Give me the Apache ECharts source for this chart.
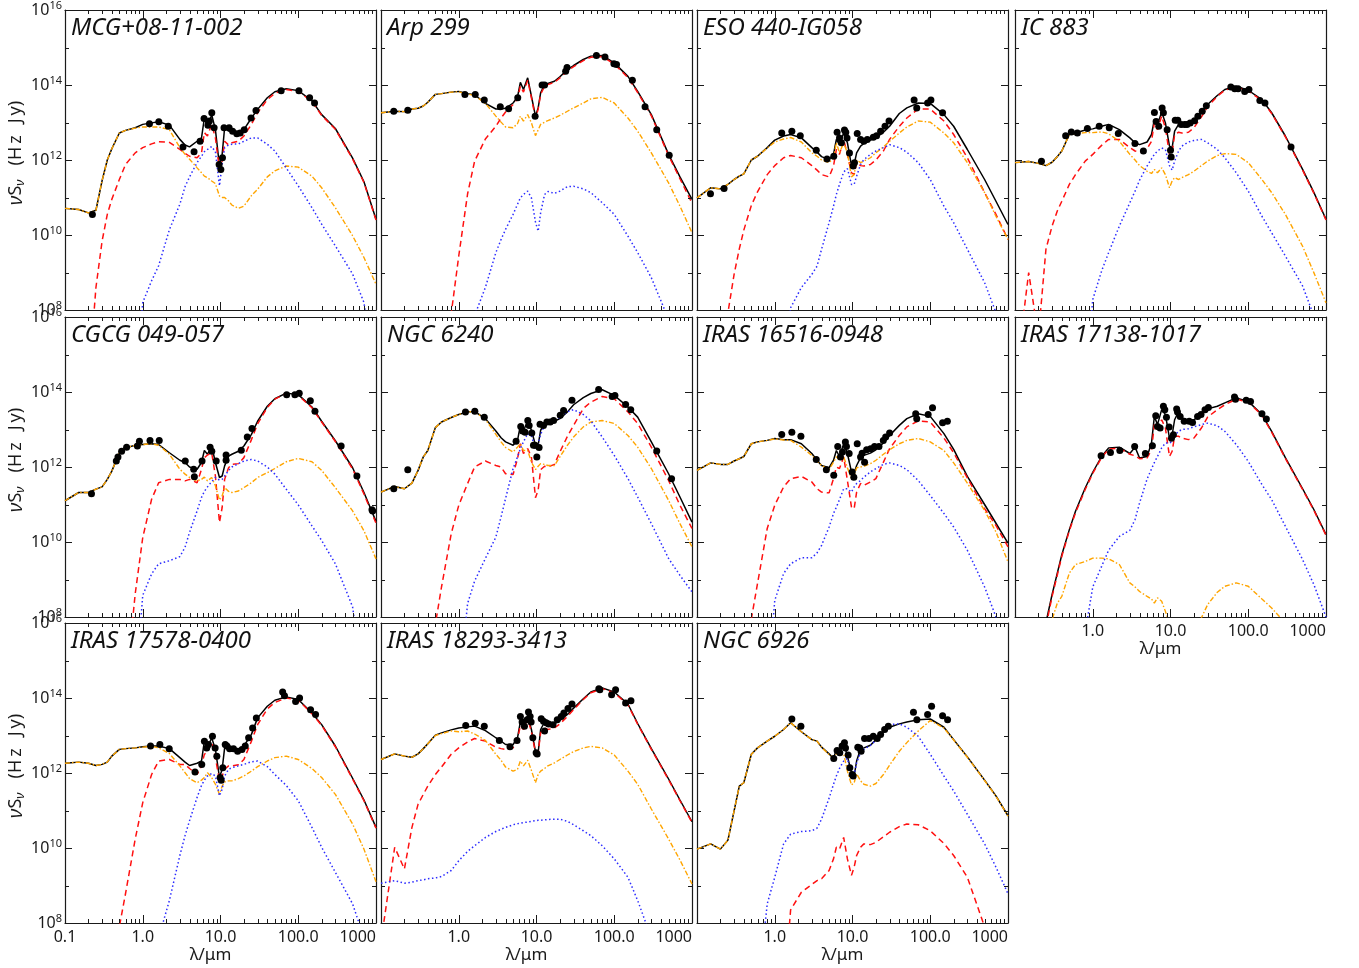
<!DOCTYPE html>
<html><head><meta charset="utf-8">
<script src="https://cdn.jsdelivr.net/npm/echarts@6/dist/echarts.min.js"></script>
<style>html,body{margin:0;padding:0;background:#fff}#c{width:1359px;height:968px}</style>
</head><body><div id="c"></div>
<script>
// Shared wavelength grid (micron) on which every model curve was read
const LAMBDA = [0.1, 0.15, 0.2, 0.25, 0.3, 0.35, 0.4, 0.5, 0.6, 0.8,
  1.0, 1.3, 1.6, 2.2, 3.0, 3.5, 4.0, 5.0, 5.7, 6.2,
  6.8, 7.7, 8.6, 9.7, 10.5, 11.3, 12.7, 14, 17, 20,
  25, 30, 40, 50, 70, 100, 150, 200, 300, 500,
  700, 1000];

// All fluxes are log10(nu S_nu / Hz Jy). total = black, sb = red dashed, host = orange dash-dot, agn = blue dotted
// ---- MCG+08-11-002
const mcg_total = [10.71,10.68,10.59,10.66,11.45,12.00,12.30,12.72,12.79,12.86, 12.95,12.99,13.02,12.93,12.55,12.40,12.35,12.50,12.59,13.12, 12.86,13.21,12.81,11.84,12.15,12.86,12.77,12.79,12.72,12.81, 13.12,13.35,13.66,13.82,13.90,13.85,13.58,13.21,12.84,12.05, 11.42,10.42];
const mcg_sb = [6,6,6,8.6,9.84,10.55,10.95,11.48,11.88,12.19, 12.33,12.43,12.49,12.47,12.28,12.18,12.10,12.06,12.19,12.73, 12.64,12.95,12.59,11.75,11.97,12.50,12.40,12.46,12.50,12.64, 12.95,13.26,13.61,13.78,13.88,13.83,13.56,13.19,12.82,12.03, 11.40,10.40];
const mcg_host = [10.71,10.68,10.59,10.66,11.45,12.00,12.30,12.72,12.79,12.85, 12.88,12.88,12.88,12.81,12.33,12.15,12.02,11.79,11.66,11.57, 11.53,11.44,11.37,11.04,11.00,11.00,10.91,10.80,10.71,10.77, 11.05,11.22,11.55,11.71,11.84,11.81,11.57,11.26,10.73,9.98, 9.40,8.69];
const mcg_agn = [6,6,6,6,6,6,6,6,6,6, 8.20,8.78,9.18,10.14,10.82,11.29,11.55,11.93,12.10,12.22, 12.28,12.36,12.22,11.31,11.88,12.33,12.40,12.42,12.43,12.50, 12.59,12.59,12.42,12.24,11.79,11.31,10.73,10.29,9.71,8.96, 8.20,6];
const mcg_obs_lambda = [0.225,1.22,1.61,2.13,3.29,4.57,5.46,6.15,6.9,7.2,7.73,8.28,9.6,10.1,10.6,11.1,12.9,14.3,16.2,17.9,20.2,24.7,28.6,60.3,102,140,162];
const mcg_obs_flux = [10.55,12.97,13.02,12.90,12.35,12.22,12.50,13.11,12.93,13.04,13.26,12.86,11.88,11.75,12.06,12.86,12.86,12.77,12.70,12.72,12.81,13.12,13.32,13.85,13.85,13.66,13.52];

// ---- Arp 299
const arp_total = [13.26,13.30,13.29,13.36,13.38,13.44,13.54,13.75,13.77,13.81, 13.83,13.77,13.74,13.51,13.36,13.36,13.38,13.52,13.68,14.07, 13.88,14.19,13.70,13.17,13.39,13.79,14.01,14.04,14.10,14.22, 14.41,14.52,14.68,14.77,14.79,14.59,14.23,13.83,13.21,12.15, 11.55,10.95];
const arp_sb = [6,6,6,6,6,6,6,6,6,7.90, 9.44,11.10,11.97,12.56,12.90,13.12,13.28,13.48,13.63,13.97, 13.81,14.13,13.66,13.12,13.35,13.75,13.97,14.01,14.07,14.19, 14.38,14.49,14.65,14.74,14.76,14.56,14.20,13.80,13.18,12.12, 11.50,10.85];
const arp_host = [13.26,13.30,13.29,13.36,13.38,13.44,13.54,13.75,13.77,13.81, 13.82,13.76,13.72,13.51,13.17,13.01,12.88,12.86,12.97,13.17, 13.04,13.21,12.99,12.65,12.80,12.95,13.01,13.05,13.12,13.19, 13.30,13.39,13.52,13.63,13.67,13.52,13.12,12.77,12.19,11.39, 10.77,10.06];
const arp_agn = [6,6,6,6,6,6,6,6,6,6, 6,6,7.85,8.60,9.53,9.88,10.15,10.55,10.82,10.99, 11.08,11.17,10.99,10.35,10.10,10.59,11.08,11.16,11.11,11.17, 11.29,11.30,11.23,11.13,10.86,10.55,9.97,9.53,8.86,7.75, 6,6];
const arp_obs_lambda = [0.146,0.221,1.2,1.63,2.13,3.42,4.38,5.74,9.6,11.8,12.7,23.7,24.7,59,76,99,107,171,249,352,509];
const arp_obs_flux = [13.30,13.33,13.75,13.75,13.60,13.42,13.37,13.66,13.17,14.00,14.00,14.37,14.47,14.79,14.75,14.57,14.55,14.13,13.42,12.81,12.13];

// ---- ESO 440-IG058
const eso_total = [10.99,11.26,11.23,11.35,11.48,11.57,11.63,12.00,12.10,12.33, 12.53,12.64,12.68,12.59,12.33,12.21,12.09,12.01,12.15,12.55, 12.41,12.72,12.46,11.85,11.88,12.19,12.37,12.44,12.53,12.59, 12.74,12.90,13.24,13.39,13.52,13.51,13.21,12.90,12.28,11.48, 10.90,10.28];
const eso_sb = [6,6,6,7.93,8.95,9.63,10.13,10.79,11.15,11.61, 11.85,12.06,12.12,12.06,11.85,11.73,11.61,11.55,11.84,12.28, 12.15,12.55,12.15,11.66,11.61,11.93,11.85,11.84,11.88,12.00, 12.24,12.55,12.90,13.12,13.36,13.36,13.04,12.68,12.06,11.13, 10.55,9.88];
const eso_host = [10.99,11.26,11.23,11.35,11.48,11.57,11.63,12.00,12.10,12.32, 12.48,12.56,12.60,12.48,12.19,12.10,12.00,11.93,12.06,12.46, 12.19,12.46,12.19,11.55,11.61,12.00,11.93,11.97,12.06,12.19, 12.35,12.50,12.72,12.88,13.04,13.01,12.72,12.46,11.93,11.13, 10.50,9.88];
const eso_agn = [6,6,6,6,6,6,6,6,6,6, 6,6,8.06,8.60,8.95,9.17,9.62,10.33,10.77,11.08, 11.35,11.68,11.77,11.35,11.35,11.57,11.88,12.01,12.15,12.24, 12.33,12.41,12.33,12.21,11.93,11.48,10.77,10.33,9.62,8.73, 7.93,6];
const eso_obs_lambda = [0.149,0.223,1.23,1.66,2.13,3.42,4.7,5.74,6.34,6.8,7.2,7.88,8.2,8.5,9.14,10.2,10.6,11.5,12.7,14.0,15.5,18.5,20.4,23,26.2,29.5,62,67,92.5,102,144];
const eso_obs_flux = [11.10,11.24,12.72,12.77,12.65,12.26,12.03,12.10,12.74,12.59,12.46,12.80,12.74,12.59,12.19,11.84,11.93,12.71,12.55,12.50,12.55,12.61,12.65,12.77,12.90,13.04,13.60,13.39,13.52,13.60,13.26];

// ---- IC 883
const ic_total = [11.93,11.96,11.91,11.85,11.94,12.09,12.24,12.68,12.72,12.80, 12.83,12.90,12.95,12.81,12.59,12.46,12.41,12.48,12.68,13.08, 12.95,13.28,12.99,12.37,12.33,12.77,12.95,12.97,13.01,13.06, 13.28,13.48,13.72,13.88,13.97,13.86,13.61,13.26,12.64,11.75, 11.13,10.42];
const ic_sb = [6,9.0,7.3,9.62,10.24,10.64,10.90,11.35,11.61,11.97, 12.15,12.39,12.55,12.55,12.33,12.24,12.21,12.30,12.50,12.99, 12.81,13.17,12.86,12.15,12.19,12.68,12.74,12.72,12.74,12.86, 13.15,13.42,13.70,13.86,13.95,13.84,13.59,13.24,12.62,11.73, 11.11,10.40];
const ic_host = [11.93,11.96,11.91,11.85,11.94,12.09,12.24,12.68,12.70,12.73, 12.73,12.75,12.70,12.50,12.15,12.00,11.85,11.70,11.64,11.75, 11.66,11.79,11.61,11.26,11.44,11.53,11.48,11.53,11.61,11.70, 11.85,11.97,12.12,12.17,12.15,11.93,11.48,11.13,10.55,9.70, 8.99,8.19];
const ic_agn = [6,6,6,6,6,6,6,6,6,6, 8.28,9.04,9.53,10.24,10.86,11.17,11.46,11.84,12.03,12.15, 12.24,12.32,12.28,11.85,11.73,11.97,12.24,12.37,12.48,12.52, 12.55,12.46,12.28,12.06,11.66,11.17,10.50,10.06,9.44,8.64, 7.84,6];
const ic_obs_lambda = [0.219,0.448,0.53,0.634,0.853,1.21,1.63,2.13,3.49,4.48,6.21,6.53,7.06,7.8,8.1,9.05,10.0,10.2,11.5,12.4,13.7,15.2,16.3,17.9,20.4,22.5,25.6,28.9,59.7,67,74,90,102,141,164,355];
const ic_obs_flux = [11.97,12.65,12.75,12.72,12.84,12.90,12.86,12.71,12.44,12.24,13.27,13.03,12.90,13.39,13.26,12.81,12.26,12.08,13.06,13.06,12.95,12.95,12.95,12.99,13.05,13.17,13.30,13.45,13.95,13.90,13.90,13.83,13.88,13.59,13.52,12.35];

// ---- CGCG 049-057
const cgcg_total = [11.10,11.32,11.32,11.41,11.47,11.67,11.89,12.38,12.51,12.58, 12.60,12.62,12.60,12.38,12.18,12.12,12.00,11.94,12.12,12.44, 12.34,12.56,12.12,11.72,11.76,12.03,12.29,12.34,12.42,12.56, 12.87,13.22,13.62,13.82,13.97,13.93,13.60,13.22,12.70,11.98, 11.32,10.55];
const cgcg_sb = [6,6,6,6,6,6,6,6,6,8.62, 10.12,11.14,11.58,11.67,11.67,11.63,11.67,11.58,11.94,12.25, 12.32,12.38,11.76,10.52,10.92,11.67,11.98,12.07,12.09,12.25, 12.73,13.15,13.59,13.81,13.96,13.91,13.58,13.20,12.68,11.95, 11.28,10.50];
const cgcg_host = [11.10,11.32,11.32,11.41,11.47,11.67,11.89,12.38,12.51,12.58, 12.60,12.62,12.58,12.34,11.94,11.81,11.72,11.63,11.67,11.73, 11.63,11.72,11.50,11.12,11.23,11.45,11.35,11.32,11.36,11.45, 11.58,11.72,11.85,11.96,12.14,12.23,12.14,11.91,11.45,10.83, 10.30,9.55];
const cgcg_agn = [6,6,6,6,6,6,6,6,6,6, 8.58,9.15,9.42,9.50,9.61,9.86,10.26,10.83,11.19,11.35, 11.47,11.61,11.72,11.65,11.67,11.76,11.91,12.00,12.09,12.16, 12.20,12.16,12.00,11.81,11.41,10.99,10.43,10.04,9.42,8.27, 6,6];
const cgcg_obs_lambda = [0.219,0.457,0.48,0.535,0.62,0.853,0.906,1.24,1.63,3.52,4.52,4.61,5.79,7.35,7.73,8.8,11.8,11.8,18.5,22.1,25.4,71,90.5,103,143,164,356,568,887,905];
const cgcg_obs_flux = [11.29,12.16,12.27,12.42,12.53,12.56,12.69,12.71,12.71,12.16,11.94,11.74,12.16,12.53,12.42,12.16,12.32,12.18,12.45,12.80,13.03,13.93,13.93,13.97,13.77,13.49,12.56,11.76,10.86,10.83];

// ---- NGC 6240
const n6240_total = [11.33,11.48,11.42,11.57,11.91,12.27,12.44,13.05,13.20,13.32, 13.40,13.47,13.48,13.29,12.96,12.78,12.67,12.58,12.71,13.11, 12.96,13.24,12.98,12.58,12.58,12.98,13.16,13.17,13.22,13.29, 13.47,13.66,13.85,13.96,14.06,13.91,13.60,13.33,12.67,11.82, 11.20,10.53];
const n6240_sb = [6,6,6,6,6,6,6,7.80,8.80,10.22, 10.98,11.56,12.00,12.16,12.04,12.00,11.82,11.80,12.22,12.62, 12.36,12.49,12.27,11.18,11.38,11.93,12.02,12.00,12.07,12.40, 12.82,13.11,13.56,13.73,13.88,13.82,13.47,13.16,12.53,11.64, 10.98,10.36];
const n6240_host = [11.33,11.48,11.42,11.57,11.91,12.27,12.44,13.05,13.20,13.32, 13.40,13.47,13.48,13.27,12.87,12.67,12.52,12.40,12.53,12.62, 12.44,12.44,12.13,11.93,12.02,12.09,12.07,12.04,12.04,12.27, 12.58,12.80,13.07,13.20,13.24,13.16,12.84,12.53,11.96,11.11, 10.49,9.87];
const n6240_agn = [6,6,6,6,6,6,6,6,6,6, 6,8.36,8.96,9.56,10.13,10.67,11.16,11.96,12.27,12.49, 12.67,12.89,12.84,12.46,12.62,12.87,13.11,13.16,13.23,13.33, 13.47,13.53,13.40,13.23,12.80,12.31,11.69,11.20,10.49,9.56, 9.11,8.67];
const n6240_obs_lambda = [0.146,0.221,1.22,1.61,2.13,5.46,6.27,6.6,7.13,7.73,8.04,8.7,9.14,9.6,10.1,10.8,11.1,12.3,13.6,15.0,16.6,20.2,22.3,28.6,63,94,102,140,163,352,546];
const n6240_obs_flux = [11.42,11.93,13.47,13.49,13.33,12.69,13.08,12.96,12.93,13.24,13.11,12.91,12.58,12.58,12.27,12.52,13.14,13.11,13.20,13.20,13.24,13.38,13.51,13.78,14.07,13.88,13.91,13.67,13.53,12.43,11.69];

// ---- IRAS 16516-0948
const i16516_total = [11.91,12.11,12.07,12.07,12.16,12.22,12.28,12.62,12.67,12.71, 12.76,12.73,12.73,12.62,12.36,12.18,12.04,11.98,12.18,12.44, 12.28,12.62,12.36,11.87,11.84,12.04,12.25,12.31,12.37,12.46, 12.64,12.84,13.11,13.29,13.42,13.35,12.89,12.47,11.75,11.00, 10.50,9.97];
const i16516_sb = [6,6,6,6,6,6,6,7.95,8.89,10.36, 10.98,11.47,11.69,11.75,11.60,11.42,11.33,11.31,11.69,12.00, 11.96,12.27,11.64,10.93,10.89,11.33,11.56,11.51,11.60,11.69, 12.13,12.49,12.84,13.07,13.23,13.20,12.77,12.38,11.71,10.89, 10.44,9.87];
const i16516_host = [11.91,12.11,12.07,12.07,12.16,12.22,12.28,12.62,12.67,12.71, 12.75,12.72,12.71,12.53,12.31,12.16,12.04,11.93,12.13,12.27, 12.20,12.27,11.98,11.69,11.78,11.98,12.00,12.02,12.09,12.18, 12.34,12.46,12.62,12.71,12.76,12.67,12.44,12.11,11.57,10.84, 10.27,9.47];
const i16516_agn = [6,6,6,6,6,6,6,6,6,6, 8.44,9.16,9.42,9.58,9.58,9.71,9.91,10.40,10.76,10.93, 11.13,11.42,11.42,11.33,11.47,11.56,11.64,11.73,11.87,11.96, 12.07,12.11,12.04,11.93,11.64,11.24,10.76,10.40,9.78,8.80, 8.00,6];
const i16516_obs_lambda = [1.23,1.66,2.17,3.42,4.61,5.74,6.46,7.0,7.43,8.1,8.36,9.05,9.9,10.4,11.5,12.7,13.3,14.3,15.2,17.1,19.2,21.9,24.9,26.7,30,65,67,94,107,144,166];
const i16516_obs_flux = [12.87,12.93,12.82,12.20,11.93,11.78,12.55,12.27,12.40,12.67,12.55,12.36,11.87,11.73,12.62,12.27,12.37,12.13,12.46,12.49,12.55,12.55,12.71,12.80,12.91,13.42,13.29,13.40,13.58,13.18,13.22];

// ---- IRAS 17138-1017
const i17138_total = [6,6,6,7.85,8.60,9.17,9.66,10.33,10.82,11.44, 11.86,12.28,12.51,12.53,12.36,12.53,12.24,12.28,12.64,13.35, 13.13,13.53,13.40,12.77,12.86,13.26,13.48,13.31,13.24,13.26, 13.40,13.55,13.62,13.71,13.84,13.75,13.40,12.95,12.25,11.42, 10.86,10.20];
const i17138_sb = [6,6,6,7.75,8.55,9.12,9.62,10.30,10.78,11.40, 11.83,12.25,12.48,12.50,12.34,12.30,12.22,12.24,12.46,13.13, 13.00,13.26,13.04,12.28,12.42,12.82,12.82,12.77,12.73,12.77, 13.04,13.33,13.53,13.66,13.81,13.73,13.38,12.93,12.23,11.40, 10.84,10.18];
const i17138_host = [6,6,6,6,7.93,8.37,8.55,9.17,9.40,9.48, 9.57,9.57,9.55,9.40,8.91,8.80,8.68,8.55,8.48,8.37, 8.51,8.42,8.15,7.84,7.00,6.50,6,6,6,7.30, 7.98,8.33,8.66,8.82,8.91,8.82,8.48,8.24,7.84,6.80, 6,6];
const i17138_agn = [6,6,6,6,6,6,6,6,6,7.60, 8.80,9.35,9.78,10.15,10.31,10.60,11.04,11.68,11.95,12.12, 12.28,12.51,12.64,12.64,12.68,12.84,12.95,13.00,13.02,13.07, 13.13,13.17,13.10,12.95,12.60,12.15,11.53,11.13,10.42,9.53, 8.86,8.00];
const i17138_obs_lambda = [1.28,1.69,2.23,3.46,4.75,5.85,6.46,6.8,7.35,8.1,8.45,8.87,9.6,10.3,10.9,12.0,12.3,13.3,15,17.4,19.2,22.3,24.7,27.8,30.7,66.5,68.5,94,107,150,171];
const i17138_obs_flux = [12.30,12.39,12.44,12.55,12.36,12.57,13.37,13.08,13.04,13.62,13.53,13.33,13.07,12.77,12.86,13.55,13.47,13.35,13.22,13.22,13.19,13.35,13.40,13.53,13.59,13.87,13.81,13.78,13.75,13.42,13.28];

// ---- IRAS 17578-0400
const i17578_total = [12.26,12.29,12.26,12.20,12.23,12.29,12.45,12.63,12.65,12.67, 12.70,12.72,12.72,12.65,12.41,12.29,12.20,12.26,12.32,12.85, 12.67,12.94,12.63,11.88,12.10,12.67,12.63,12.58,12.61,12.72, 13.03,13.47,13.78,13.94,14.03,13.96,13.60,13.29,12.72,11.86, 11.28,10.55];
const i17578_sb = [6,6,6,6,6,6,6,7.90,8.78,10.24, 11.21,11.96,12.32,12.36,12.23,12.23,12.12,11.96,12.19,12.50, 12.56,12.81,12.41,11.79,11.92,12.10,12.19,12.19,12.22,12.36, 12.85,13.29,13.71,13.88,14.00,13.94,13.58,13.27,12.70,11.84, 11.26,10.53];
const i17578_host = [12.26,12.29,12.26,12.20,12.23,12.29,12.45,12.63,12.65,12.67, 12.69,12.71,12.67,12.52,12.19,12.01,11.85,11.74,11.81,11.88, 12.01,11.88,11.70,11.43,11.65,11.76,11.79,11.79,11.85,11.92, 12.05,12.17,12.32,12.41,12.45,12.36,12.12,11.88,11.43,10.64, 9.97,9.10];
const i17578_agn = [6,6,6,6,6,6,6,6,6,6, 6,6,7.60,8.60,9.80,10.33,10.73,11.35,11.67,11.81, 11.92,11.99,11.92,11.39,11.57,11.92,12.10,12.14,12.19,12.23, 12.30,12.32,12.17,11.96,11.67,11.26,10.55,10.02,9.35,8.51, 7.60,6];
const i17578_obs_lambda = [1.26,1.66,2.19,4.7,5.74,6.21,6.65,7.0,7.88,8.53,8.97,9.9,10.2,10.7,11.5,12.1,13.1,14.7,16.6,18.9,20.8,23,25.9,28.9,63,66.5,92.5,104,144,167];
const i17578_obs_flux = [12.72,12.76,12.65,12.03,12.23,12.85,12.67,12.76,12.98,12.67,12.45,11.88,11.81,12.14,12.76,12.72,12.65,12.65,12.58,12.63,12.72,12.94,13.20,13.47,14.16,14.06,13.91,14.00,13.69,13.56];

// ---- IRAS 18293-3413
const i18293_total = [12.36,12.51,12.45,12.42,12.51,12.65,12.78,13.01,13.07,13.15, 13.20,13.23,13.25,13.13,12.94,12.85,12.76,12.76,12.94,13.36, 13.25,13.54,13.16,12.57,12.54,13.16,13.36,13.29,13.31,13.40, 13.56,13.73,13.98,14.16,14.27,14.16,13.84,13.32,12.65,11.84, 11.28,10.70];
const i18293_sb = [7.50,10.02,9.44,10.55,11.17,11.43,11.65,11.96,12.16,12.50, 12.67,12.83,12.92,12.85,12.69,12.65,12.63,12.67,12.89,13.27, 13.16,13.45,13.10,12.54,12.54,13.07,13.20,13.16,13.20,13.31, 13.51,13.69,13.96,14.14,14.25,14.14,13.82,13.30,12.63,11.82, 11.26,10.68];
const i18293_host = [12.36,12.51,12.45,12.42,12.51,12.65,12.78,13.00,13.05,13.12, 13.10,13.12,13.04,12.87,12.50,12.34,12.16,12.05,12.10,12.32, 12.19,12.34,12.07,11.74,11.96,12.05,12.12,12.19,12.27,12.36, 12.48,12.57,12.67,12.71,12.67,12.48,12.05,11.70,11.04,10.24, 9.68,9.04];
const i18293_agn = [9.06,9.13,9.06,9.09,9.13,9.15,9.18,9.20,9.24,9.40, 9.66,9.91,10.06,10.28,10.44,10.50,10.55,10.62,10.65,10.66, 10.68,10.69,10.71,10.73,10.74,10.74,10.75,10.76,10.77,10.77, 10.71,10.62,10.46,10.33,10.06,9.71,9.22,8.60,7.60,6, 6,6];
const i18293_obs_lambda = [1.23,1.63,2.13,3.33,4.56,5.62,6.21,6.53,7.0,7.57,7.88,8.28,8.53,8.97,9.9,10.2,11.5,12.3,12.7,13.3,14.3,16.3,18.5,20.8,22.5,25.4,28.6,63.4,65.3,92.5,104,140,164];
const i18293_obs_flux = [13.27,13.33,13.25,12.87,12.70,12.87,13.51,13.36,13.25,13.42,13.63,13.51,13.36,12.94,12.54,12.51,13.45,13.38,13.12,13.34,13.31,13.29,13.42,13.51,13.60,13.72,13.84,14.25,14.22,14.09,14.22,13.87,13.93];

// ---- NGC 6926
const n6926_total = [9.97,10.11,9.97,10.21,10.99,11.65,11.74,12.50,12.67,12.85, 12.98,13.16,13.34,13.10,12.89,12.85,12.69,12.51,12.39,12.63, 12.51,12.81,12.45,12.01,11.92,12.32,12.65,12.67,12.74,12.89, 13.10,13.22,13.31,13.36,13.42,13.44,13.22,12.89,12.43,11.81, 11.39,10.86];
const n6926_sb = [6,6,6,6,6,6,6,6,6,6, 6,6,8.35,8.82,9.03,9.13,9.18,9.40,9.71,10.02, 9.97,10.28,9.71,9.27,9.49,9.80,10.02,10.11,10.09,10.15, 10.30,10.42,10.57,10.64,10.62,10.46,10.12,9.80,9.22,7.90, 6,6];
const n6926_host = [9.97,10.11,9.97,10.21,10.99,11.65,11.74,12.50,12.67,12.85, 12.98,13.16,13.34,13.10,12.89,12.85,12.69,12.49,12.41,12.51, 12.57,12.51,12.05,11.68,11.74,11.98,11.79,11.70,11.65,11.72, 11.96,12.21,12.58,12.81,13.12,13.40,13.20,12.88,12.42,11.80, 11.38,10.85];
const n6926_agn = [6,6,6,6,6,6,6,6,6,8.51, 9.22,10.11,10.37,10.44,10.46,10.53,10.77,11.33,11.70,11.92, 12.12,12.32,12.39,11.88,11.96,12.27,12.54,12.63,12.74,12.87, 13.12,13.29,13.31,13.22,12.98,12.50,11.92,11.52,10.90,10.11, 9.49,8.78];
const n6926_obs_lambda = [1.66,2.17,5.74,6.34,6.86,7.35,7.88,8.13,8.79,9.24,9.9,10.2,11.7,12.4,12.9,14.3,16.3,18.5,20.8,23,25.9,28.9,60.8,67.3,92.5,104,144,167];
const n6926_obs_flux = [13.44,13.25,12.39,12.60,12.54,12.72,12.81,12.67,12.48,12.14,11.96,11.92,12.69,12.67,12.58,12.92,12.92,12.98,12.92,13.03,13.16,13.25,13.62,13.42,13.56,13.78,13.53,13.42];

// Axis tick labels
const X_TICK_VALUES = [0.1, 1, 10, 100, 1000];
const X_TICK_TEXT = ['0.1', '1.0', '10.0', '100.0', '1000'];
const MINOR_X_TICKS = [0.2,0.3,0.4,0.5,0.6,0.7,0.8,0.9, 2,3,4,5,6,7,8,9, 20,30,40,50,60,70,80,90, 200,300,400,500,600,700,800,900];
const MINOR_Y_TICKS = [1e9, 1e11, 1e13, 1e15];

const PANELS = [
  {name:'MCG+08-11-002', total:mcg_total, sb:mcg_sb, host:mcg_host, agn:mcg_agn, obsL:mcg_obs_lambda, obsF:mcg_obs_flux},
  {name:'Arp 299', total:arp_total, sb:arp_sb, host:arp_host, agn:arp_agn, obsL:arp_obs_lambda, obsF:arp_obs_flux},
  {name:'ESO 440-IG058', total:eso_total, sb:eso_sb, host:eso_host, agn:eso_agn, obsL:eso_obs_lambda, obsF:eso_obs_flux},
  {name:'IC 883', total:ic_total, sb:ic_sb, host:ic_host, agn:ic_agn, obsL:ic_obs_lambda, obsF:ic_obs_flux},
  {name:'CGCG 049-057', total:cgcg_total, sb:cgcg_sb, host:cgcg_host, agn:cgcg_agn, obsL:cgcg_obs_lambda, obsF:cgcg_obs_flux},
  {name:'NGC 6240', total:n6240_total, sb:n6240_sb, host:n6240_host, agn:n6240_agn, obsL:n6240_obs_lambda, obsF:n6240_obs_flux},
  {name:'IRAS 16516-0948', total:i16516_total, sb:i16516_sb, host:i16516_host, agn:i16516_agn, obsL:i16516_obs_lambda, obsF:i16516_obs_flux},
  {name:'IRAS 17138-1017', total:i17138_total, sb:i17138_sb, host:i17138_host, agn:i17138_agn, obsL:i17138_obs_lambda, obsF:i17138_obs_flux},
  {name:'IRAS 17578-0400', total:i17578_total, sb:i17578_sb, host:i17578_host, agn:i17578_agn, obsL:i17578_obs_lambda, obsF:i17578_obs_flux},
  {name:'IRAS 18293-3413', total:i18293_total, sb:i18293_sb, host:i18293_host, agn:i18293_agn, obsL:i18293_obs_lambda, obsF:i18293_obs_flux},
  {name:'NGC 6926', total:n6926_total, sb:n6926_sb, host:n6926_host, agn:n6926_agn, obsL:n6926_obs_lambda, obsF:n6926_obs_flux}
];

// Layout
const COL_LEFT = [65, 381, 697, 1015];
const ROW_TOP = [10, 317, 623];
const PW = 311, PH = 300;
const FONT = 'Noto Sans';
const INK = '#1a1a1a';

const pairs = (lam, logv) => lam.map((l, k) => [l, Math.pow(10, logv[k])]);
const xLabel = v => { const k = X_TICK_VALUES.findIndex(t => Math.abs(Math.log10(v / t)) < 0.01); return k < 0 ? '' : X_TICK_TEXT[k]; };
const yLabel = v => '{b|10}{s|' + Math.round(Math.log10(v)) + '}';
const MINOR_DATA = MINOR_X_TICKS.map(v => [v, 1e12, 0]).concat(MINOR_Y_TICKS.map(v => [1, v, 1]));

function minorTicks(params, api) {
  const cs = params.coordSys;
  const st = {stroke: INK, lineWidth: 1};
  if (api.value(2) === 0) {
    const x = Math.round(api.coord([api.value(0), 1e12])[0]) + 0.5;
    return {type: 'group', children: [
      {type: 'line', shape: {x1: x, y1: cs.y + cs.height, x2: x, y2: cs.y + cs.height - 4}, style: st},
      {type: 'line', shape: {x1: x, y1: cs.y, x2: x, y2: cs.y + 4}, style: st}]};
  }
  const y = Math.round(api.coord([1, api.value(1)])[1]) + 0.5;
  return {type: 'group', children: [
    {type: 'line', shape: {x1: cs.x, y1: y, x2: cs.x + 4, y2: y}, style: st},
    {type: 'line', shape: {x1: cs.x + cs.width, y1: y, x2: cs.x + cs.width - 4, y2: y}, style: st}]};
}

const grid = [], xAxis = [], yAxis = [], series = [], title = [];
const axisLine = {show: true, onZero: false, lineStyle: {color: INK, width: 1.2}};

PANELS.forEach((p, i) => {
  const col = i % 4, row = Math.floor(i / 4);
  const left = COL_LEFT[col], top = ROW_TOP[row];
  grid.push({left: left, top: top, width: PW, height: PH});
  const showX = row === 2 || (row === 1 && col === 3);
  const showY = col === 0;
  const xi = xAxis.length, yi = yAxis.length;
  const xBase = {type: 'log', logBase: 10, min: 0.1, max: 1000, gridIndex: i, axisLine: axisLine,
    axisTick: {show: true, inside: true, length: 8, lineStyle: {color: INK, width: 1}},
    splitLine: {show: false}, minorTick: {show: false}};
  xAxis.push(Object.assign({}, xBase, {position: 'bottom',
    name: showX ? 'λ/μm' : '', nameLocation: 'middle', nameGap: 24,
    nameTextStyle: {fontFamily: FONT, fontSize: 17, color: INK, padding: [0, 20, 0, 0]},
    axisLabel: {show: showX, formatter: xLabel, margin: 6, fontFamily: FONT, fontSize: 16, color: INK,
      showMinLabel: i === 8, showMaxLabel: true, alignMaxLabel: 'right'}}));
  xAxis.push(Object.assign({}, xBase, {position: 'top', axisLabel: {show: false}}));
  const yBase = {type: 'log', logBase: 100, min: 1e8, max: 1e16, gridIndex: i, axisLine: axisLine,
    axisTick: {show: true, inside: true, length: 7, lineStyle: {color: INK, width: 1}},
    splitLine: {show: false}, minorTick: {show: false}};
  yAxis.push(Object.assign({}, yBase, {position: 'left',
    name: showY ? '{g|ν}{a|S}{s|ν}{a|   (H\u2009z\u2002\u2009J\u2009y)}' : '', nameLocation: 'middle', nameGap: 37,
    nameTextStyle: {padding: [0, 0, 0, 14], rich: {
      g: {fontFamily: FONT, fontStyle: 'italic', fontSize: 20, color: INK, lineHeight: 22},
      a: {fontFamily: FONT, fontSize: 18, color: INK, lineHeight: 22},
      s: {fontFamily: FONT, fontStyle: 'italic', fontSize: 13, color: INK, lineHeight: 12, verticalAlign: 'bottom'}}},
    axisLabel: {show: showY, formatter: yLabel, margin: 3, showMinLabel: true, showMaxLabel: true,
      rich: {b: {fontFamily: FONT, fontSize: 16, color: INK, lineHeight: 20},
        s: {fontFamily: FONT, fontSize: 11, color: INK, lineHeight: 11, verticalAlign: 'top'}}}}));
  yAxis.push(Object.assign({}, yBase, {position: 'right', axisLabel: {show: false}}));

  title.push({text: p.name, left: left + 6, top: top + 6, padding: 0,
    textStyle: {fontFamily: FONT, fontStyle: 'italic', fontWeight: 'normal', fontSize: 24, color: '#111'}});

  const common = {xAxisIndex: xi, yAxisIndex: yi, showSymbol: false, symbol: 'none', silent: true, clip: true, animation: false};
  series.push(Object.assign({type: 'line', name: p.name + ' total', data: pairs(LAMBDA, p.total),
    lineStyle: {color: '#000', width: 1.5}, z: 2}, common));
  series.push(Object.assign({type: 'line', name: p.name + ' starburst', data: pairs(LAMBDA, p.sb),
    lineStyle: {color: '#ff1010', width: 1.5, type: [6, 4]}, z: 3}, common));
  series.push(Object.assign({type: 'line', name: p.name + ' host', data: pairs(LAMBDA, p.host),
    lineStyle: {color: '#ffa500', width: 1.4, type: [5, 2, 1.5, 2]}, z: 3}, common));
  series.push(Object.assign({type: 'line', name: p.name + ' AGN', data: pairs(LAMBDA, p.agn),
    lineStyle: {color: '#2b2bff', width: 1.5, type: [1.5, 2.5]}, z: 3}, common));
  series.push({type: 'scatter', name: p.name + ' photometry', xAxisIndex: xi, yAxisIndex: yi,
    data: pairs(p.obsL, p.obsF), symbol: 'circle', symbolSize: 7, itemStyle: {color: '#000', opacity: 1},
    silent: true, animation: false, z: 5});
  series.push({type: 'custom', xAxisIndex: xi, yAxisIndex: yi, data: MINOR_DATA, renderItem: minorTicks,
    encode: {x: 0, y: 1}, silent: true, animation: false, z: 6});
});

const chart = echarts.init(document.getElementById('c'), null, {renderer: 'canvas'});
chart.setOption({backgroundColor: '#fff', animation: false, title, grid, xAxis, yAxis, series});
</script>
</body></html>
